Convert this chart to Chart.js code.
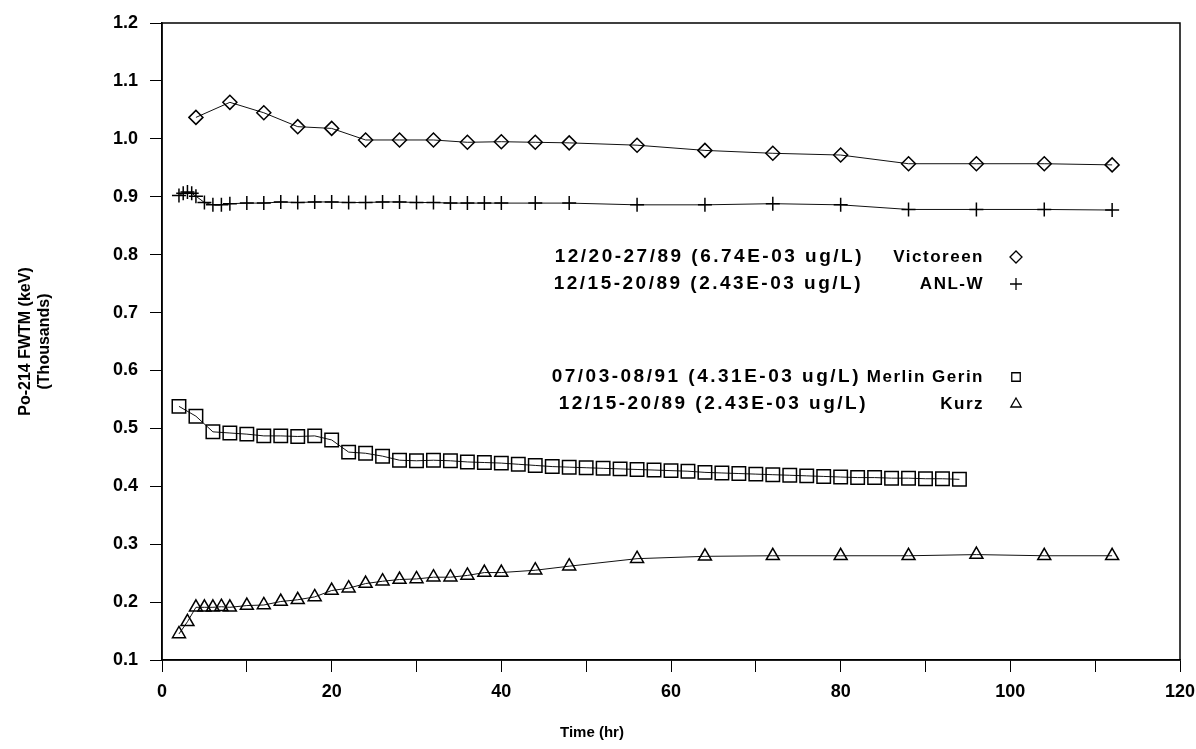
<!DOCTYPE html>
<html>
<head>
<meta charset="utf-8">
<script src="https://cdn.jsdelivr.net/npm/chart.js@4.4.1/dist/chart.umd.min.js"></script>
<style>
  html, body { margin: 0; padding: 0; background: #fff; }
  #wrap { width: 1196px; height: 749px; }
</style>
</head>
<body>
<div id="wrap"><canvas id="fwtm_chart" width="1196" height="749"></canvas></div>
<script>
// time (hr) and Po-214 FWTM (thousands of keV) per instrument
const hoursVictoreen = [4, 8, 12, 16, 20, 24, 28, 32, 36, 40, 44, 48, 56, 64, 72, 80, 88, 96, 104, 112];
const fwtmVictoreen = [1.037, 1.063, 1.045, 1.021, 1.018, 0.998, 0.998, 0.998, 0.994, 0.995, 0.994, 0.993, 0.989, 0.980, 0.975, 0.972, 0.957, 0.957, 0.957, 0.955];

const hoursAnlw = [2, 2.5, 3, 3.5, 4, 5, 6, 7, 8, 10, 12, 14, 16, 18, 20, 22, 24, 26, 28, 30, 32, 34, 36, 38, 40, 44, 48, 56, 64, 72, 80, 88, 96, 104, 112];
const fwtmAnlw = [0.902, 0.906, 0.908, 0.906, 0.901, 0.890, 0.886, 0.886, 0.888, 0.889, 0.889, 0.891, 0.890, 0.891, 0.891, 0.890, 0.890, 0.891, 0.891, 0.890, 0.890, 0.889, 0.889, 0.889, 0.889, 0.889, 0.889, 0.886, 0.886, 0.888, 0.886, 0.878, 0.878, 0.878, 0.877];

const hoursMerlin = [2, 4, 6, 8, 10, 12, 14, 16, 18, 20, 22, 24, 26, 28, 30, 32, 34, 36, 38, 40, 42, 44, 46, 48, 50, 52, 54, 56, 58, 60, 62, 64, 66, 68, 70, 72, 74, 76, 78, 80, 82, 84, 86, 88, 90, 92, 94];
const fwtmMerlin = [0.538, 0.521, 0.494, 0.492, 0.490, 0.487, 0.487, 0.486, 0.487, 0.480,
  0.459, 0.457, 0.452, 0.445, 0.444, 0.445, 0.444, 0.442, 0.441, 0.440,
  0.438, 0.436, 0.434, 0.433, 0.432, 0.431, 0.430, 0.429, 0.428, 0.427,
  0.426, 0.424, 0.423, 0.422, 0.421, 0.420, 0.419, 0.418, 0.417, 0.416,
  0.415, 0.415, 0.414, 0.414, 0.413, 0.413, 0.412];

const hoursKurz = [2, 3, 4, 5, 6, 7, 8, 10, 12, 14, 16, 18, 20, 22, 24, 26, 28, 30, 32, 34, 36, 38, 40, 44, 48, 56, 64, 72, 80, 88, 96, 104, 112];
const fwtmKurz = [0.145, 0.166, 0.191, 0.191, 0.191, 0.192, 0.191, 0.194, 0.195, 0.201, 0.204, 0.209, 0.220, 0.224, 0.232, 0.236, 0.239, 0.240, 0.243, 0.243, 0.246, 0.251, 0.251, 0.255, 0.262, 0.275, 0.279, 0.280, 0.280, 0.280, 0.282, 0.280, 0.280];

const instruments = ["Victoreen", "ANL-W", "Merlin Gerin", "Kurz"];
const runLabels = ["12/20-27/89 (6.74E-03 ug/L)", "12/15-20/89 (2.43E-03 ug/L)", "07/03-08/91 (4.31E-03 ug/L)", "12/15-20/89 (2.43E-03 ug/L)"];
const markers = ["rectRot", "cross", "rect", "triangle"];

const yTitle = ["Po-214 FWTM (keV)", "(Thousands)"];
const xTitle = "Time (hr)";

function toPoints(xs, ys) {
  return xs.map((x, i) => ({ x: x, y: ys[i] }));
}

const seriesData = [
  toPoints(hoursVictoreen, fwtmVictoreen),
  toPoints(hoursAnlw, fwtmAnlw),
  toPoints(hoursMerlin, fwtmMerlin),
  toPoints(hoursKurz, fwtmKurz),
];
const markerSize = [7, 7, 9.5, 7.5];

const FONT = '"Liberation Sans", Arial, Helvetica, sans-serif';
Chart.defaults.font.family = FONT;
Chart.defaults.color = "#000";

// frame round the plot
const framePlugin = {
  id: "frame",
  beforeDatasetsDraw(chart) {
    const a = chart.chartArea;
    const ctx = chart.ctx;
    ctx.save();
    ctx.strokeStyle = "#000";
    ctx.lineWidth = 1.5;
    ctx.strokeRect(a.left, a.top, a.right - a.left, a.bottom - a.top);
    ctx.restore();
  },
};

// legend sits inside the plot: run label, instrument name, marker
// x title sits left of centre in the original
const rowTop = [234, 261, 354, 381];
const runRight = [316, 317, 319, 312];
const legendPlugin = {
  id: "insideLegend",
  afterDatasetsDraw(chart) {
    const a = chart.chartArea;
    const ctx = chart.ctx;
    ctx.save();
    ctx.fillStyle = "#000";
    ctx.textBaseline = "middle";
    chart.data.datasets.forEach((ds, i) => {
      const y = a.top + rowTop[i];
      ctx.textAlign = "right";
      ctx.font = "bold 19px " + FONT;
      if ("letterSpacing" in ctx) ctx.letterSpacing = "2.5px";
      ctx.fillText(runLabels[i], a.right - runRight[i], y);
      ctx.font = "bold 17px " + FONT;
      if ("letterSpacing" in ctx) ctx.letterSpacing = "1.5px";
      ctx.fillText(instruments[i], a.right - 196, y);
      ctx.save();
      ctx.strokeStyle = "#000";
      ctx.fillStyle = "rgba(0,0,0,0)";
      ctx.lineWidth = 1.3;
      Chart.helpers.drawPoint(ctx, {
        pointStyle: markers[i],
        radius: 6,
        borderWidth: 1.3,
        rotation: 0,
      }, a.right - 164, y);
      ctx.restore();
    });
    ctx.font = "bold 15px " + FONT;
    if ("letterSpacing" in ctx) ctx.letterSpacing = "0px";
    ctx.textAlign = "center";
    ctx.fillText(xTitle, a.left + 430, 733);
    ctx.restore();
  },
};

const datasets = instruments.map((name, i) => ({
  label: name,
  data: seriesData[i],
  borderColor: "#111",
  borderWidth: 1,
  pointStyle: markers[i],
  pointRadius: markerSize[i],
  pointBorderWidth: 1.5,
  pointBorderColor: "#000",
  pointBackgroundColor: "rgba(0,0,0,0)",
  tension: 0,
  fill: false,
}));

const ctx = document.getElementById("fwtm_chart").getContext("2d");
const fwtmChart = new Chart(ctx, {
  type: "line",
  data: { datasets: datasets },
  options: {
    responsive: false,
    animation: false,
    layout: { padding: { top: 23, right: 16, left: 0, bottom: 0 } },
    plugins: {
      legend: { display: false },
      tooltip: { enabled: false },
    },
    scales: {
      x: {
        type: "linear",
        min: 0,
        max: 120,
        grid: { drawOnChartArea: false, drawTicks: true, tickLength: 12, color: "#000", lineWidth: 1 },
        border: { display: true, color: "#000", width: 1.5 },
        ticks: {
          stepSize: 10,
          padding: 9,
          maxRotation: 0,
          autoSkip: false,
          font: { size: 18, weight: "bold" },
          callback: (v) => (v % 20 === 0 ? String(v) : ""),
        },
        title: { display: false, text: xTitle },
        afterFit: (scale) => {
          scale.height = 89;
          scale.paddingLeft = 0;
          scale.paddingRight = 0;
        },
      },
      y: {
        type: "linear",
        min: 0.1,
        max: 1.2,
        grid: { drawOnChartArea: false, drawTicks: true, tickLength: 12, color: "#000", lineWidth: 1 },
        border: { display: true, color: "#000", width: 1.5 },
        ticks: {
          stepSize: 0.1,
          padding: 12,
          font: { size: 18, weight: "bold" },
          callback: (v) => Number(v).toFixed(1),
        },
        title: {
          display: true,
          text: yTitle,
          font: { size: 16, weight: "bold" },
          padding: { top: 16, bottom: 0 },
        },
        afterFit: (scale) => { scale.width = 162; },
      },
    },
  },
  plugins: [framePlugin, legendPlugin],
});
</script>
</body>
</html>
